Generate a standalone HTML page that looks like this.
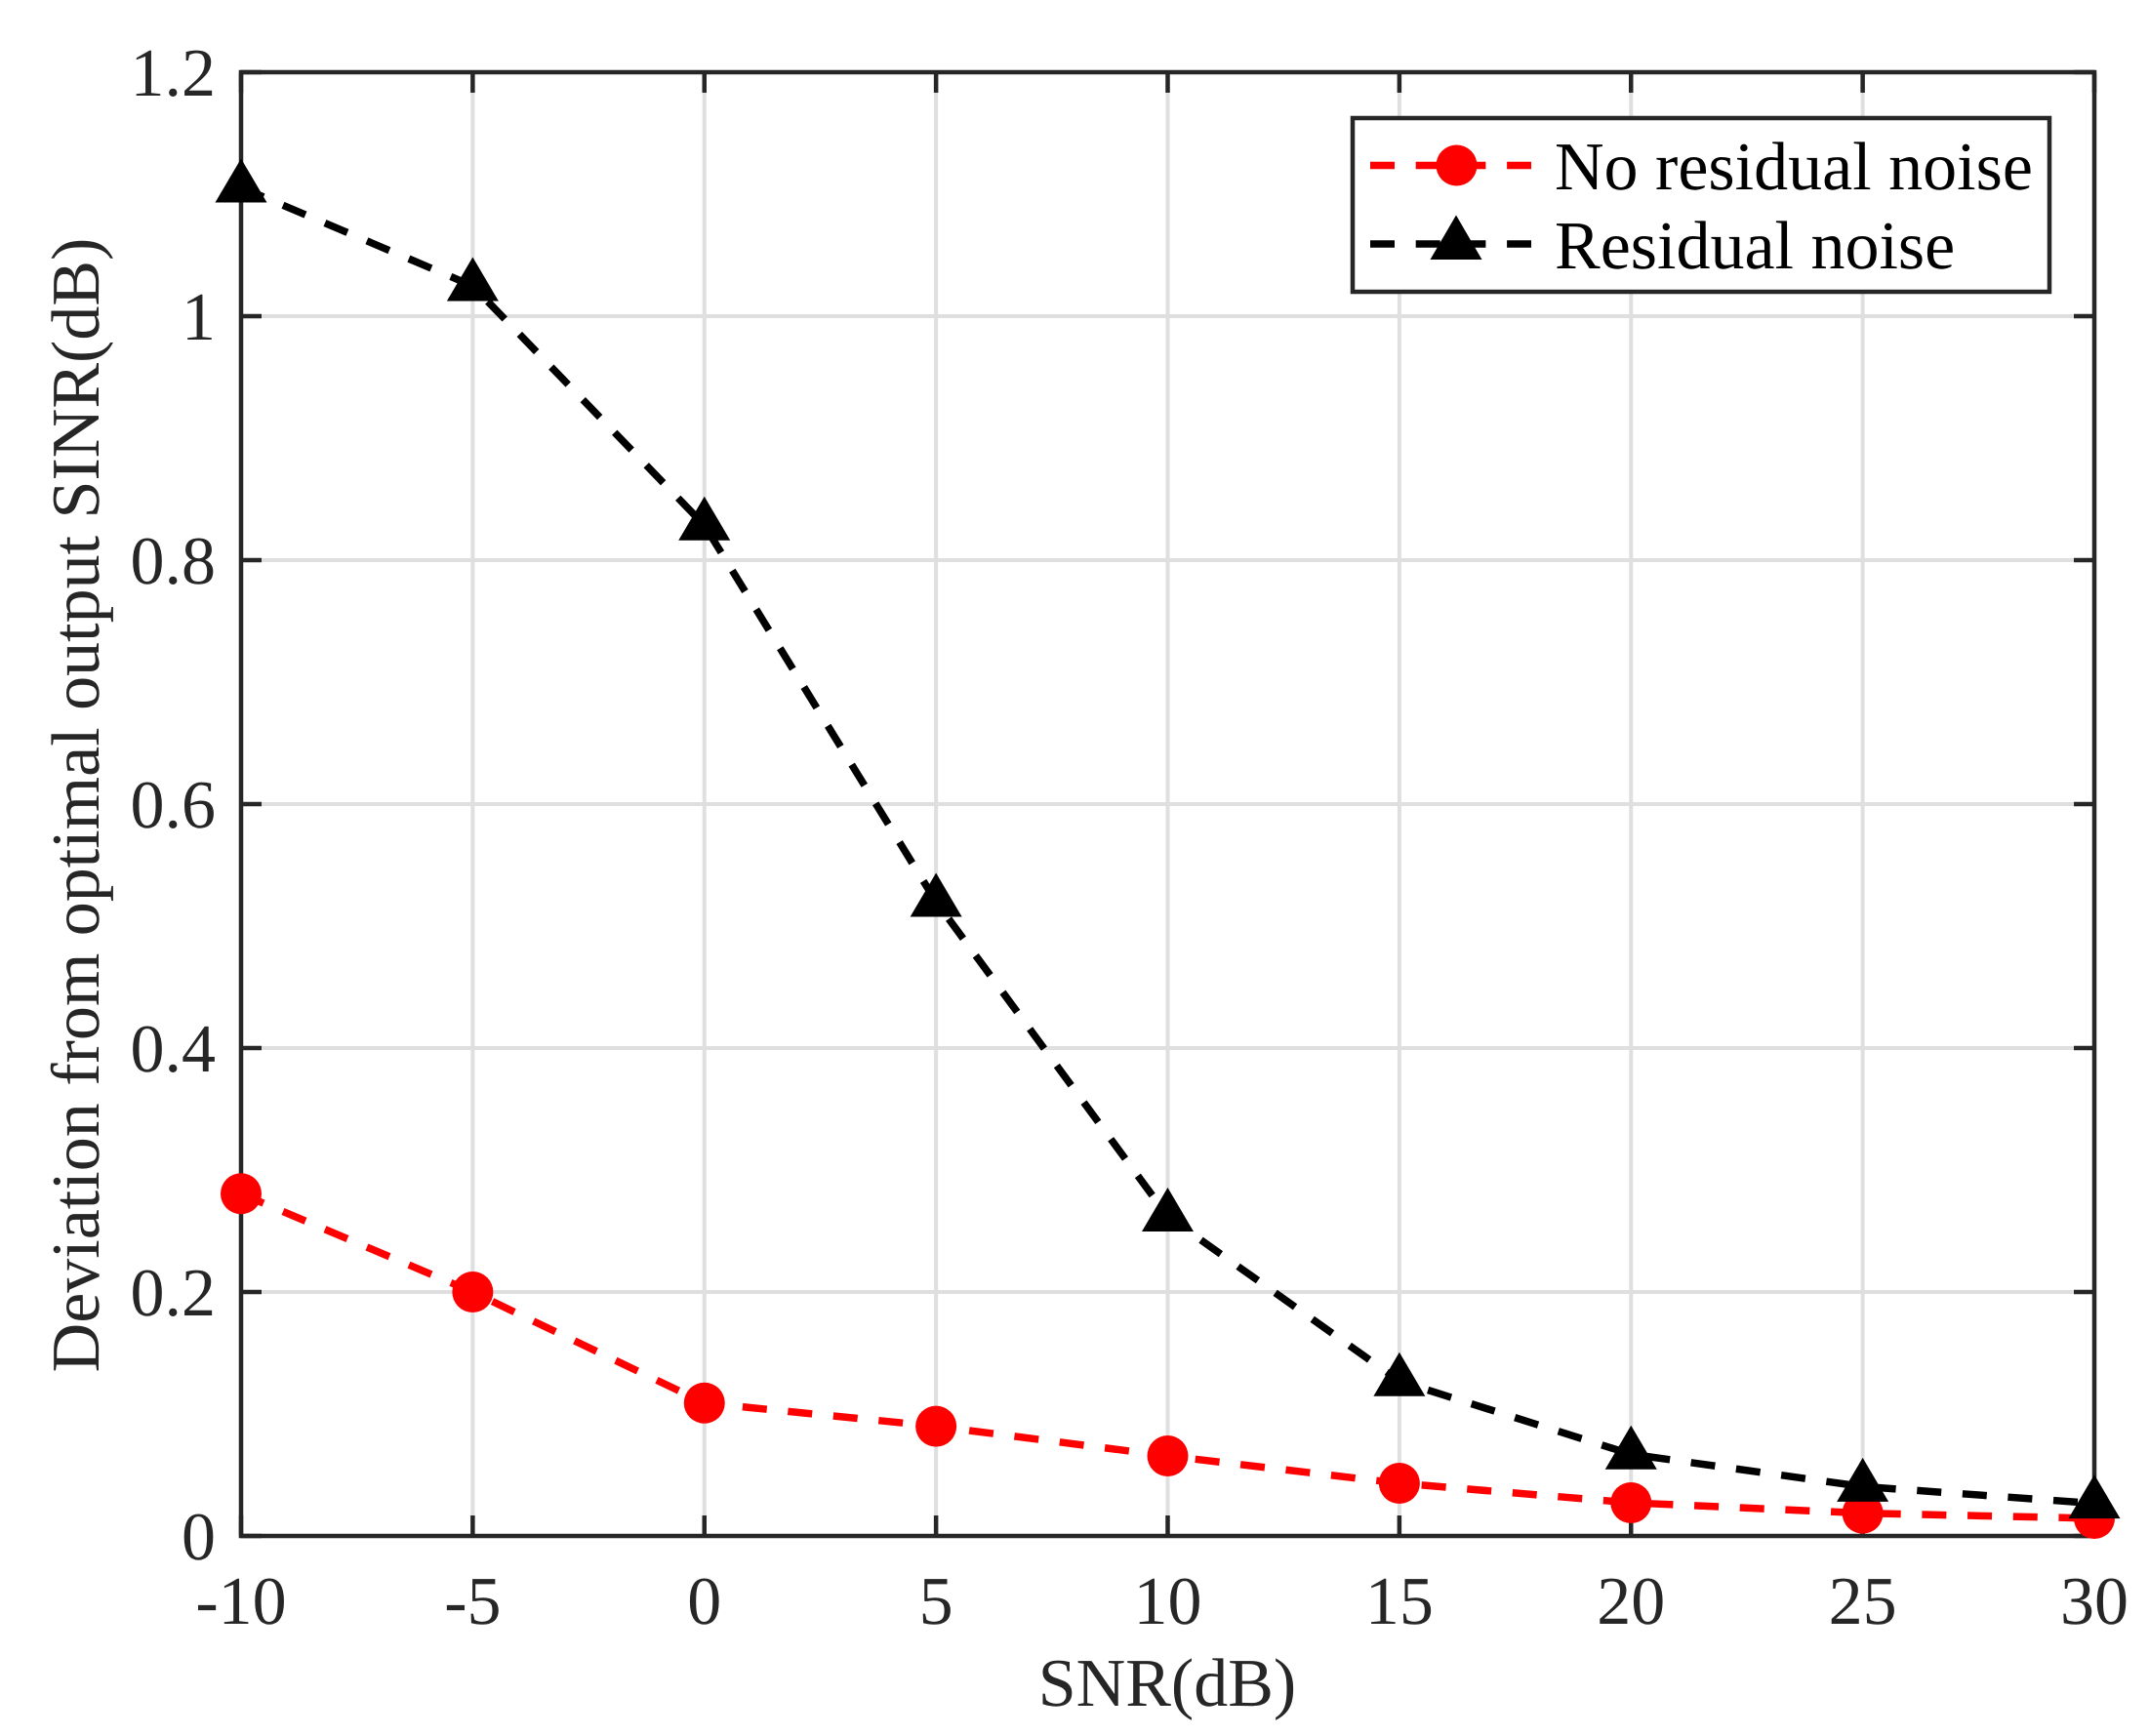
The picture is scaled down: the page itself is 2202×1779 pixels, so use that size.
<!DOCTYPE html>
<html lang="en">
<head>
<meta charset="utf-8">
<title>Deviation from optimal output SINR vs SNR</title>
<style>
html,body{margin:0;padding:0;background:#fff;width:2202px;height:1779px;overflow:hidden}
svg{display:block}
text{font-family:"Liberation Serif",serif;font-size:70px;fill:#262626;text-rendering:geometricPrecision}
</style>
</head>
<body>
<svg id="chart" xmlns="http://www.w3.org/2000/svg" width="2202" height="1779" viewBox="0 0 2202 1779">
  <rect x="0" y="0" width="2202" height="1779" fill="#fff"/>
  <g id="grid"></g>
  <g id="axes"></g>
  <g id="labels"></g>
  <text x="1196" y="1748" text-anchor="middle">SNR(dB)</text>
  <text x="101" y="825" text-anchor="middle" transform="rotate(-90 101 825)">Deviation from optimal output SINR(dB)</text>
  <g id="series"></g>
  <g>
    <rect x="1386" y="121" width="714" height="178" fill="#fff" stroke="#262626" stroke-width="4.5"/>
    <g>
      <line x1="1404" y1="169.5" x2="1569" y2="169.5" stroke="#ff0000" stroke-width="7.5" stroke-dasharray="25 21.7"/>
      <circle cx="1492.5" cy="169.5" r="21" fill="#ff0000"/>
      <text x="1593" y="194" style="fill:#000">No residual noise</text>
    </g>
    <g>
      <line x1="1404" y1="250" x2="1569" y2="250" stroke="#000" stroke-width="7.5" stroke-dasharray="25 21.7"/>
      <polygon points="1492,220.5 1518.5,266 1465.5,266" fill="#000"/>
      <text x="1593" y="275" style="fill:#000">Residual noise</text>
    </g>
  </g>
</svg>
<script>
const snrValues = [-10, -5, 0, 5, 10, 15, 20, 25, 30];
const noResidualNoise = [0.2806, 0.2, 0.109, 0.0899, 0.0656, 0.0432, 0.0272, 0.0187, 0.0144];
const residualNoise = [1.1056, 1.0248, 0.8286, 0.52, 0.262, 0.127, 0.067, 0.0405, 0.0267];
const xTicks = [-10, -5, 0, 5, 10, 15, 20, 25, 30];
const yTicks = [0, 0.2, 0.4, 0.6, 0.8, 1, 1.2];

const NS = 'http://www.w3.org/2000/svg';
const plotLeft = 247, plotRight = 2146, plotTop = 74, plotBottom = 1574;
const xMin = -10, xMax = 30, yMin = 0, yMax = 1.2;
const tickLen = 21;
function xScale(v) { return plotLeft + (v - xMin) / (xMax - xMin) * (plotRight - plotLeft); }
function yScale(v) { return plotBottom - (v - yMin) / (yMax - yMin) * (plotBottom - plotTop); }
function make(tag, attrs, parent) {
  const el = document.createElementNS(NS, tag);
  for (const k in attrs) el.setAttribute(k, attrs[k]);
  parent.appendChild(el);
  return el;
}
const gridG = document.getElementById('grid');
const axesG = document.getElementById('axes');
const labelsG = document.getElementById('labels');
const seriesG = document.getElementById('series');
const gridStyle = { stroke: '#dfdfdf', 'stroke-width': 4 };
const axisStyle = { stroke: '#262626', 'stroke-width': 4.5 };

xTicks.forEach(function (t) {
  const x = xScale(t);
  const g = make('line', Object.assign({ x1: x, x2: x, y1: plotTop, y2: plotBottom }, gridStyle), gridG);
  
  
  const tb = make('line', Object.assign({ x1: x, x2: x, y1: plotBottom, y2: plotBottom - tickLen }, axisStyle), axesG);
  
  
  const tt = make('line', Object.assign({ x1: x, x2: x, y1: plotTop, y2: plotTop + tickLen }, axisStyle), axesG);
  
  
  const lb = make('text', { x: x, y: 1664, 'text-anchor': 'middle' }, labelsG);
  
  
  lb.textContent = String(t);
});
yTicks.forEach(function (t) {
  const y = yScale(t);
  const g = make('line', Object.assign({ x1: plotLeft, x2: plotRight, y1: y, y2: y }, gridStyle), gridG);
  
  
  const tl = make('line', Object.assign({ x1: plotLeft, x2: plotLeft + tickLen, y1: y, y2: y }, axisStyle), axesG);
  
  
  const tr = make('line', Object.assign({ x1: plotRight, x2: plotRight - tickLen, y1: y, y2: y }, axisStyle), axesG);
  
  
  const lb = make('text', { x: 221, y: y + 24, 'text-anchor': 'end' }, labelsG);
  
  
  lb.textContent = String(t);
});
const frame = make('rect', { x: plotLeft, y: plotTop, width: plotRight - plotLeft, height: plotBottom - plotTop, fill: 'none', stroke: '#262626', 'stroke-width': 4.5 }, axesG);



function pathPoints(values) {
  return values.map(function (v, i) { return xScale(snrValues[i]) + ',' + yScale(v); }).join(' ');
}
const redLine = make('polyline', { points: pathPoints(noResidualNoise), fill: 'none', stroke: '#ff0000', 'stroke-width': 7.5, 'stroke-dasharray': '25 21.7' }, seriesG);


noResidualNoise.forEach(function (v, i) {
  const c = make('circle', { cx: xScale(snrValues[i]), cy: yScale(v), r: 21, fill: '#ff0000' }, seriesG);
  
  
});
const blackLine = make('polyline', { points: pathPoints(residualNoise), fill: 'none', stroke: '#000', 'stroke-width': 7.5, 'stroke-dasharray': '25 21.7' }, seriesG);


residualNoise.forEach(function (v, i) {
  const x = xScale(snrValues[i]), y = yScale(v);
  const pts = x + ',' + (y - 29.5) + ' ' + (x + 26.5) + ',' + (y + 15.5) + ' ' + (x - 26.5) + ',' + (y + 15.5);
  const p = make('polygon', { points: pts, fill: '#000' }, seriesG);
  
  
});
</script>
</body>
</html>
